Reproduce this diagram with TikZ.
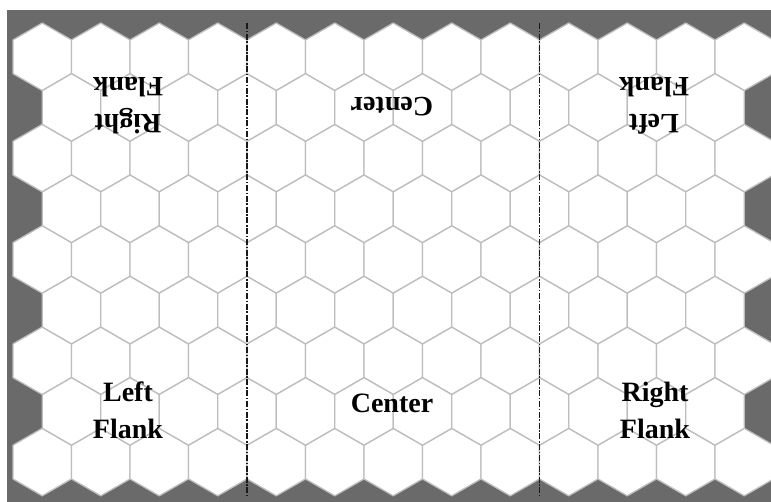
\documentclass[tikz,border=0pt]{standalone}
\usepackage{fontspec}
\setmainfont{Liberation Serif}
\definecolor{boardgrey}{HTML}{6A6A6A}
\definecolor{hexgrey}{HTML}{BDBDBD}
\begin{document}
\begin{tikzpicture}[x=1pt,y=-1pt,
  hexline/.style={draw=hexgrey,line width=1.3pt,fill=white,line join=round},
  divider/.style={draw=black!90,line width=1.6pt,dash pattern=on 6pt off 1.6pt on 1.6pt off 1.6pt},
  flanktext/.style={font=\fontsize{28}{34}\selectfont\bfseries,inner sep=0pt,anchor=base}]
\useasboundingbox (0,0) rectangle (771,502);
\fill[white] (0,0) rectangle (771,502);
\fill[boardgrey] (7,10) rectangle (771,502);
\def\R{33.775}
\begin{scope}
\clip (7,10) rectangle (771,502);
\foreach \r in {0,2,4,6,8} {
  \foreach \k in {0,...,12} {
    \pgfmathsetmacro\cx{42.25+58.5*\k}
    \pgfmathsetmacro\cy{56.8+50.66*\r}
    \draw[hexline] (\cx,\cy) +(90:\R) -- +(30:\R) -- +(-30:\R) -- +(-90:\R) -- +(-150:\R) -- +(150:\R) -- cycle;
  }
}
\foreach \r in {1,3,5,7} {
  \foreach \k in {0,...,11} {
    \pgfmathsetmacro\cx{71.5+58.5*\k}
    \pgfmathsetmacro\cy{56.8+50.66*\r}
    \draw[hexline] (\cx,\cy) +(90:\R) -- +(30:\R) -- +(-30:\R) -- +(-90:\R) -- +(-150:\R) -- +(150:\R) -- cycle;
  }
}
\end{scope}
\coordinate (d1top) at (247,23);
\coordinate (d1bot) at (247,496);
\coordinate (d2top) at (539.5,23);
\coordinate (d2bot) at (539.5,496);
\draw[divider] (d1top) -- (d1bot);
\draw[divider] (d2top) -- (d2bot);
% bottom labels
\node[flanktext] (blf1) at (128,402) {Left};
\node[flanktext] (blf2) at (128,438) {Flank};
\node[flanktext] (bc) at (392,413) {Center};
\node[flanktext] (brf1) at (655,402) {Right};
\node[flanktext] (brf2) at (655,438) {Flank};
% top labels (upside down)
\node[flanktext,rotate=180] (trf1) at (128,115) {Right};
\node[flanktext,rotate=180] (trf2) at (128,78) {Flank};
\node[flanktext,rotate=180] (tc) at (392,98) {Center};
\node[flanktext,rotate=180] (tlf1) at (654,115) {Left};
\node[flanktext,rotate=180] (tlf2) at (654,78) {Flank};
\end{tikzpicture}
\end{document}
